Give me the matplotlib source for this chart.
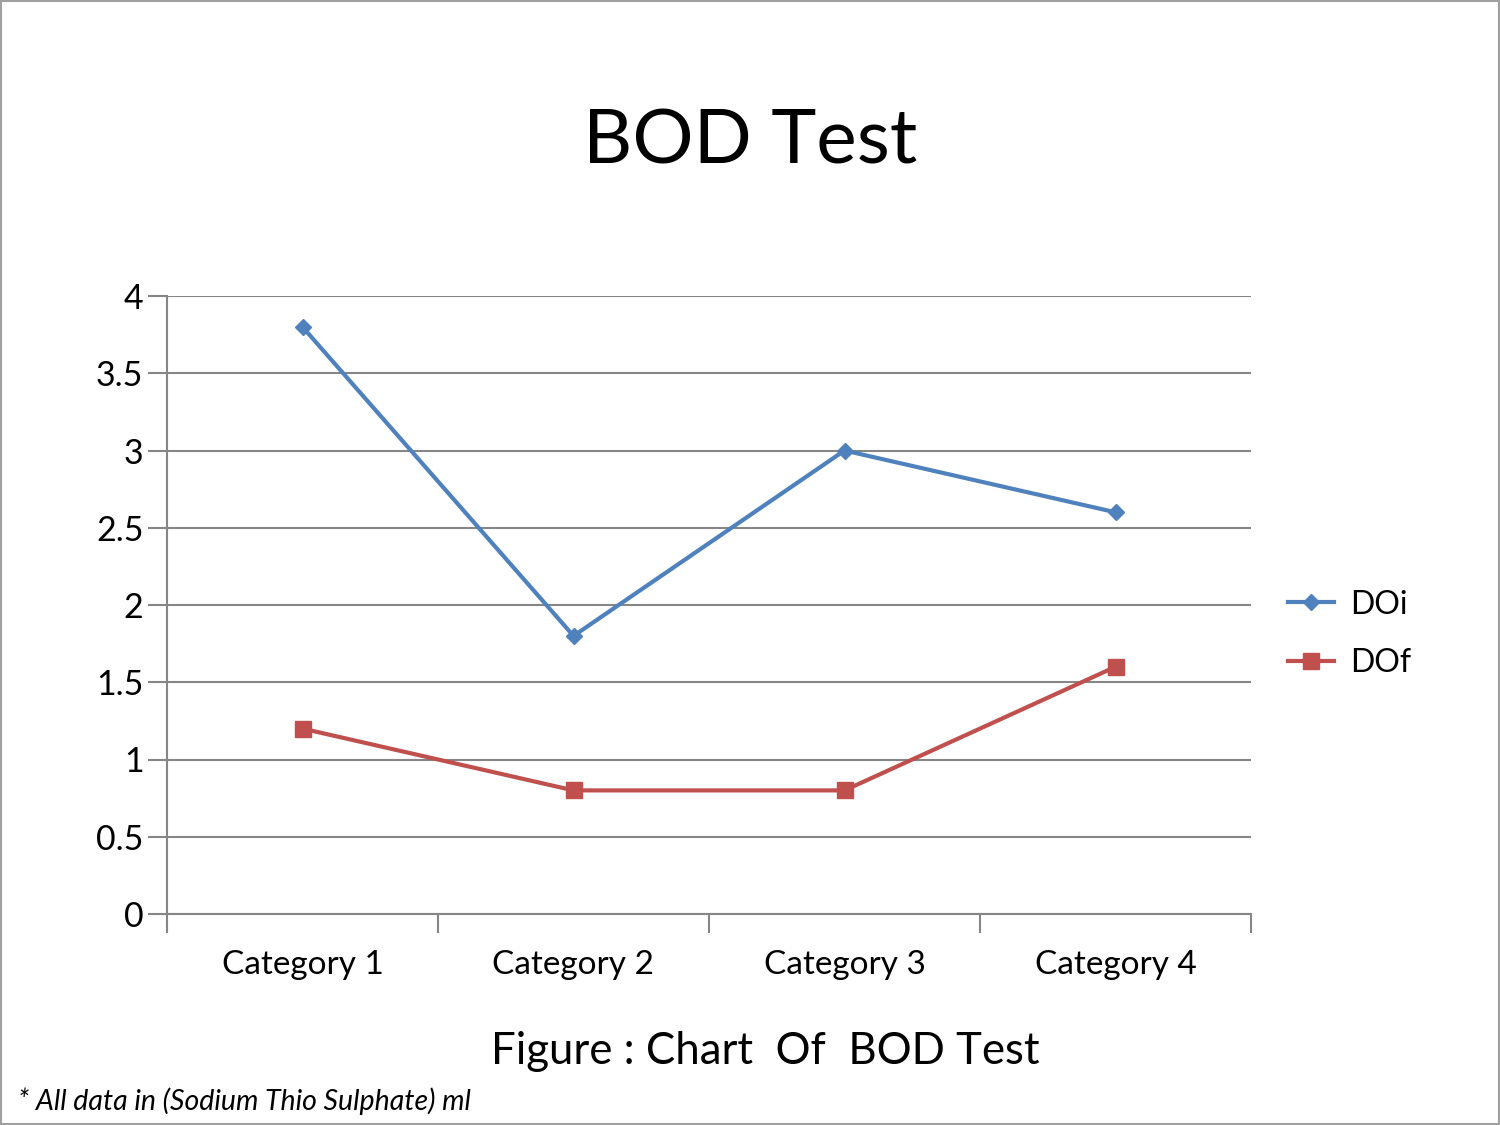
import matplotlib.pyplot as plt
from matplotlib.patches import Rectangle

plt.rcParams['font.family'] = ['Lato', 'DejaVu Sans']

categorias = ['Category 1', 'Category 2', 'Category 3', 'Category 4']
doi = [3.8, 1.8, 3.0, 2.6]
dof = [1.2, 0.8, 0.8, 1.6]
yticks = [0, 0.5, 1, 1.5, 2, 2.5, 3, 3.5, 4]

azul = '#4F81BD'
vermelho = '#C0504D'
cinza = '#868686'

fig = plt.figure(figsize=(15, 11.25), dpi=100)
ax = fig.add_axes([167/1500, 1 - 914/1125, (1251-167)/1500, (914-296)/1125])

x = list(range(len(categorias)))
ax.plot(x, doi, color=azul, linewidth=3, marker='D', markersize=8, label='DOi')
ax.plot(x, dof, color=vermelho, linewidth=3, marker='s', markersize=11, label='DOf')

ax.set_xlim(-0.5, 3.5)
ax.set_ylim(0, 4)
ax.set_yticks(yticks)
ax.set_yticklabels(['0', '0.5', '1', '1.5', '2', '2.5', '3', '3.5', '4'])
ax.yaxis.grid(True, color=cinza, linewidth=1.5)
ax.set_axisbelow(True)

# ticks nas fronteiras das categorias, rotulos no centro
ax.set_xticks([-0.5, 0.5, 1.5, 2.5, 3.5])
ax.set_xticklabels([])
ax.set_xticks(x, minor=True)
ax.set_xticklabels(categorias, minor=True)
ax.tick_params(axis='x', which='major', direction='out', length=14, width=1.5, color=cinza)
ax.tick_params(axis='x', which='minor', length=0, pad=26, labelsize=24)
ax.tick_params(axis='y', direction='out', length=14, width=1.5, color=cinza, labelsize=24.5, pad=3)

for s in ['top', 'right']:
    ax.spines[s].set_visible(False)
for s in ['left', 'bottom']:
    ax.spines[s].set_color(cinza)
    ax.spines[s].set_linewidth(1.5)

fig.legend(loc='center left', bbox_to_anchor=(1259/1500, 1 - 634/1125), frameon=False,
           fontsize=23, handlelength=1.45, labelspacing=0.9, handletextpad=0.5)

fig.text(0.5, 1 - 142/1125, 'BOD Test', ha='center', va='center', fontsize=55)
fig.text(765/1500, 1 - 1052/1125, 'Figure : Chart  Of  BOD Test', ha='center', va='center', fontsize=31.5)
fig.text(18/1500, 1 - 1101/1125, '* All data in (Sodium Thio Sulphate) ml', ha='left', va='center',
         fontsize=20.5, style='italic')

fig.patches.append(Rectangle((0.0005, 0.0005), 0.999, 0.999, transform=fig.transFigure,
                             fill=False, edgecolor='#A0A0A0', linewidth=1.5))

fig.savefig('out.png', dpi=100)
